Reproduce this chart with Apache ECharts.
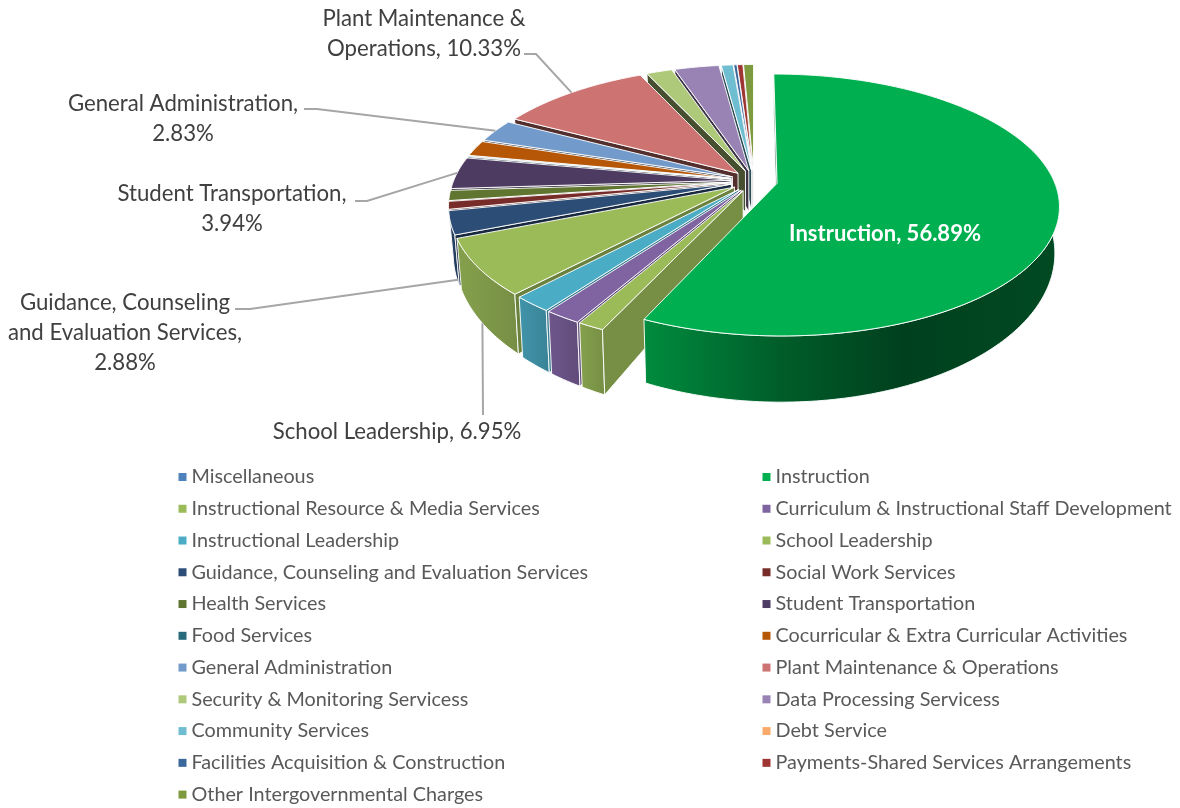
<!DOCTYPE html>
<html>
<head>
<meta charset="utf-8">
<style>html,body{margin:0;padding:0;background:#fff}#c{width:1180px;height:808px}</style>
<script src="https://cdn.jsdelivr.net/npm/echarts@6/dist/echarts.min.js"></script>
</head>
<body>
<div id="c"></div>
<script>
var categories = ['Miscellaneous','Instruction','Instructional Resource & Media Services','Curriculum & Instructional Staff Development','Instructional Leadership','School Leadership','Guidance, Counseling and Evaluation Services','Social Work Services','Health Services','Student Transportation','Food Services','Cocurricular & Extra Curricular Activities','General Administration','Plant Maintenance & Operations','Security & Monitoring Servicess','Data Processing Servicess','Community Services','Debt Service','Facilities Acquisition & Construction','Payments-Shared Services Arrangements','Other Intergovernmental Charges'];
var shares = [0,56.89,1.31,1.80,1.95,6.95,2.88,0.95,1.25,3.94,0.10,1.95,2.83,10.33,1.75,3.04,0.80,0,0.22,0.38,0.68];
var palette = ['#4F81BD','#00B050','#9BBB59','#8064A2','#4BACC6','#9BBB59','#2C4D75','#772C2A','#5F7530','#4D3B62','#276A7C','#B65708','#729ACA','#CD7371','#AFC97A','#9983B5','#6FBDD1','#F9AA6B','#3A679C','#9E3532','#7E9A3E'];
var labelLines = {1:['Instruction, 56.89%'],5:['School Leadership, 6.95%'],6:['Guidance, Counseling','and Evaluation Services,','2.88%'],9:['Student Transportation,','3.94%'],12:['General Administration,','2.83%'],13:['Plant Maintenance &','Operations, 10.33%']};

// text block centre, elbow of the leader line, and whether it meets the lower rim
var labelLayout = {
  1:{x:885,y:233.5,white:true},
  5:{x:397,y:432,from:[483,415],elbow:[483,415],rim:true},
  6:{x:125,y:332.5,from:[235,309],elbow:[250,309],rim:true,shift:[3,8]},
  9:{x:232,y:209,from:[355,201],elbow:[367,201]},
  12:{x:183,y:119,from:[304,109],elbow:[317,109]},
  13:{x:424,y:34,from:[524,54],elbow:[536,54]}
};

var OX=754, OY=181, RX=277, RY=126.6, K=0.165, EXPLODE=0.085, SHRINK=0.985;
var total = 100;

function rad(d){return d*Math.PI/180;}
function project(theta, r, mid, lower){
  var x = r*Math.sin(rad(theta)) + EXPLODE*Math.sin(rad(mid));
  var y = -(r*Math.cos(rad(theta)) + EXPLODE*Math.cos(rad(mid)));
  var w = 1 - K*y;
  var dy = RY*y/w;
  var X = OX + RX*x/w*(lower?SHRINK:1);
  var Y = OY + dy + (lower?42.5+0.153*dy:0);
  return [X,Y];
}
function shade(hex,f){
  var n=parseInt(hex.slice(1),16);
  var c=[(n>>16)&255,(n>>8)&255,n&255].map(function(v){return Math.round(v*f);});
  return 'rgb('+c.join(',')+')';
}
function arc(a0,a1,mid,lower){
  var pts=[],n=Math.max(2,Math.ceil(Math.abs(a1-a0)));
  for(var i=0;i<=n;i++){pts.push(project(a0+(a1-a0)*i/n,1,mid,lower));}
  return pts;
}
function wallFill(theta,color){
  return shade(color,0.4+0.4*Math.max(0,-Math.cos(rad(theta))));
}

var starts=[],acc=0;
shares.forEach(function(v){starts.push(acc);acc+=v;});

function makeRender(i){
  return function(params,api){
    var value=api.value(0);
    if(!(value>0)) return {type:'group',children:[]};
    var a0=starts[i]/total*360, a1=a0+value/total*360, mid=(a0+a1)/2, color=palette[i];
    var border={stroke:'rgba(255,255,255,0.92)',lineWidth:1,lineJoin:'round'};
    var kids=[];
    function poly(points,fill){
      kids.push({type:'polygon',shape:{points:points},style:Object.assign({fill:fill},border)});
    }
    var rimFill;
    if(i===1){
      rimFill=new echarts.graphic.LinearGradient(0,0,1,0,[{offset:0,color:'#008C3E'},{offset:0.32,color:'#005E2A'},{offset:0.62,color:'#00401E'},{offset:1,color:'#004A22'}]);
    }else{
      rimFill=new echarts.graphic.LinearGradient(0,0,1,0,[{offset:0,color:shade(color,0.86)},{offset:1,color:shade(color,0.76)}]);
    }
    var topEdge=arc(a0,a1,mid,false), lowEdge=arc(a1,a0,mid,true);
    poly(topEdge.concat(lowEdge),rimFill);
    function wall(t){
      poly([project(t,0,mid,false),project(t,1,mid,false),project(t,1,mid,true),project(t,0,mid,true)],wallFill(t,color));
    }
    if(Math.sin(rad(a0))<=0.0001) wall(a0);
    if(Math.sin(rad(a1))>0.0001) wall(a1);
    poly([project(a0,0,mid,false)].concat(topEdge),color);

    var lay=labelLayout[i];
    if(lay){
      if(lay.from){
        var end=project(mid,1,mid,!!lay.rim);
        if(lay.shift){end=[end[0]+lay.shift[0],end[1]+lay.shift[1]];}
        kids.push({type:'polyline',shape:{points:[lay.from,lay.elbow,end]},style:{stroke:'#A6A6A6',lineWidth:2,fill:null}});
      }
      kids.push({type:'text',style:{x:lay.x,y:lay.y,text:labelLines[i].join('\n'),align:'center',verticalAlign:'middle',
        fontFamily:'Lato',fontSize:lay.white?22:22.2,fontWeight:lay.white?'bold':'normal',lineHeight:30,fill:lay.white?'#FFFFFF':'#404040'}});
    }
    return {type:'group',children:kids};
  };
}

var order=categories.map(function(_,i){return i;}).sort(function(p,q){
  if(p===1) return 1;
  if(q===1) return -1;
  var mp=(starts[p]+shares[p]/2)/total*360, mq=(starts[q]+shares[q]/2)/total*360;
  return Math.cos(rad(mq))-Math.cos(rad(mp));
});

var series=order.map(function(i,rank){
  return {type:'custom',name:categories[i],coordinateSystem:'none',silent:true,z:2+rank,
    itemStyle:{color:palette[i]},data:[[shares[i]]],renderItem:makeRender(i)};
});

function legendOf(names,left){
  return {orient:'vertical',left:left,top:467,itemWidth:8,itemHeight:8,itemGap:11.76,icon:'rect',selectedMode:false,padding:0,
    textStyle:{fontFamily:'Lato',fontSize:19.8,color:'#595959',height:20,lineHeight:20},data:names};
}
var chart=echarts.init(document.getElementById('c'),null,{renderer:'canvas'});
chart.setOption({
  animation:false,
  backgroundColor:'#fff',
  legend:[legendOf(categories.filter(function(_,i){return i%2===0;}),178.5),legendOf(categories.filter(function(_,i){return i%2===1;}),762.5)],
  series:series
});
</script>
</body>
</html>
